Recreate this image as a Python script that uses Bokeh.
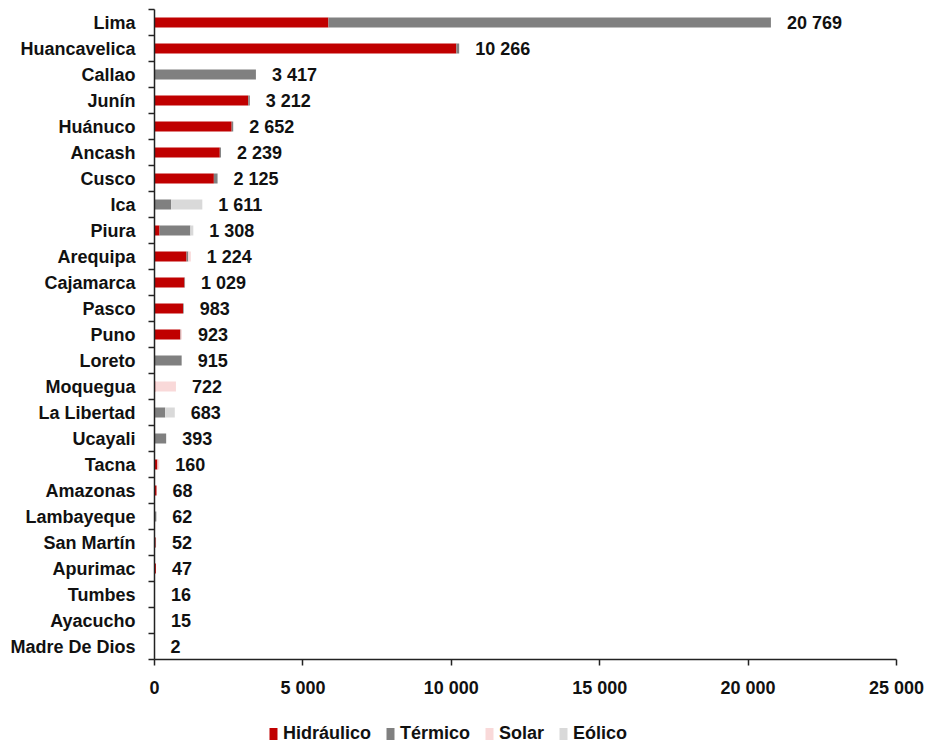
from bokeh.plotting import figure
from bokeh.layouts import column
from bokeh.models import ColumnDataSource, FixedTicker, Legend, LegendItem, LinearAxis
from bokeh.core.properties import value
from bokeh.embed import file_html
from bokeh.resources import INLINE

regions = ["Lima", "Huancavelica", "Callao", "Junín", "Huánuco", "Ancash", "Cusco", "Ica",
           "Piura", "Arequipa", "Cajamarca", "Pasco", "Puno", "Loreto", "Moquegua", "La Libertad",
           "Ucayali", "Tacna", "Amazonas", "Lambayeque", "San Martín", "Apurimac", "Tumbes",
           "Ayacucho", "Madre De Dios"]
hidraulico = [5860, 10170, 0, 3160, 2600, 2200, 2000, 0, 170, 1080, 1010, 960, 870, 0, 30, 20,
              0, 100, 68, 10, 40, 47, 0, 15, 0]
termico = [14909, 96, 3417, 52, 52, 39, 125, 560, 1040, 60, 19, 23, 13, 915, 0, 340,
           393, 0, 0, 52, 12, 0, 16, 0, 2]
solar = [0, 0, 0, 0, 0, 0, 0, 0, 0, 84, 0, 0, 40, 0, 692, 0,
         0, 60, 0, 0, 0, 0, 0, 0, 0]
eolico = [0, 0, 0, 0, 0, 0, 0, 1051, 98, 0, 0, 0, 0, 0, 0, 323,
          0, 0, 0, 0, 0, 0, 0, 0, 0]
totals = [20769, 10266, 3417, 3212, 2652, 2239, 2125, 1611, 1308, 1224, 1029, 983, 923, 915,
          722, 683, 393, 160, 68, 62, 52, 47, 16, 15, 2]
series = ["Hidráulico", "Térmico", "Solar", "Eólico"]
colors = ["#C00000", "#808080", "#F9D9D9", "#D9D9D9"]
x_ticks = [0, 5000, 10000, 15000, 20000, 25000]

n = len(regions)
ypos = [n - 1 - i for i in range(n)]
bounds = [k - 0.5 for k in range(n + 1)]

def fmt(v):
    return f"{v:,}".replace(",", " ")

src = ColumnDataSource(dict(y=ypos, region=regions, Hidráulico=hidraulico, Térmico=termico,
                            Solar=solar, Eólico=eolico, total=totals,
                            label=[fmt(t) for t in totals]))

FONT = "Liberation Sans"
FS = "18px"
INK = "#111111"
AX = "#222222"

p = figure(width=927, height=700, x_range=(0, 25000), y_range=(-0.5, n - 0.5),
           output_backend="svg", toolbar_location=None,
           min_border_left=154, min_border_right=31, min_border_top=9, min_border_bottom=41)
p.outline_line_color = None
p.xgrid.visible = False
p.ygrid.visible = False

renderers = p.hbar_stack(series, y="y", height=0.38, color=colors, line_color=None, source=src)

p.text(x="total", y="y", text="label", source=src, x_offset=16, text_align="left",
       text_baseline="middle", text_font=value(FONT), text_font_style="bold",
       text_font_size=FS, text_color=INK)

# inner y axis: line + ticks at category boundaries
tick_axis = LinearAxis(ticker=FixedTicker(ticks=bounds, minor_ticks=[]),
                       major_label_overrides={b: " " for b in bounds},
                       major_label_text_font_size="1px", major_label_standoff=0,
                       major_tick_out=6, major_tick_in=0,
                       axis_line_color=AX, axis_line_width=1.5,
                       major_tick_line_color=AX, major_tick_line_width=1.5,
                       minor_tick_line_color=None)
p.yaxis.visible = False
p.add_layout(tick_axis, "left")

# outer y axis: category names
name_axis = LinearAxis(ticker=FixedTicker(ticks=ypos, minor_ticks=[]),
                       major_label_overrides={y: r for y, r in zip(ypos, regions)},
                       axis_line_color=None, major_tick_line_color=None,
                       minor_tick_line_color=None, major_tick_out=0, major_tick_in=0,
                       major_label_standoff=10, major_label_text_font=FONT,
                       major_label_text_font_style="bold", major_label_text_font_size=FS,
                       major_label_text_color=INK)
p.add_layout(name_axis, "left")

# x axis
p.xaxis.ticker = FixedTicker(ticks=x_ticks, minor_ticks=[])
p.xaxis.major_label_overrides = {t: fmt(t) for t in x_ticks}
p.xaxis.major_tick_out = 6
p.xaxis.major_tick_in = 0
p.xaxis.major_label_standoff = 12
p.xaxis.major_label_text_font = FONT
p.xaxis.major_label_text_font_style = "bold"
p.xaxis.major_label_text_font_size = FS
p.xaxis.major_label_text_color = INK
p.xaxis.axis_line_color = AX
p.xaxis.axis_line_width = 1.5
p.xaxis.major_tick_line_color = AX
p.xaxis.major_tick_line_width = 1.5

# legend strip below the chart
lf = figure(width=927, height=47, x_range=(0, 1), y_range=(0, 1), output_backend="svg",
            toolbar_location=None, min_border=0, min_border_left=0, min_border_right=0,
            min_border_top=0, min_border_bottom=0)
lf.axis.visible = False
lf.grid.visible = False
lf.outline_line_color = None
leg_renderers = [lf.hbar(y=[-5], left=[-3], right=[-2], height=0.5, color=c, line_color=None)
                 for c in colors]

legend = Legend(items=[LegendItem(label=s, renderers=[r]) for s, r in zip(series, leg_renderers)],
                orientation="horizontal", location=(114, 3),
                label_text_font=FONT, label_text_font_style="bold", label_text_font_size=FS,
                label_text_color=INK, glyph_width=10, glyph_height=15, label_standoff=5,
                spacing=14, padding=0, margin=0, border_line_color=None,
                background_fill_alpha=0)
lf.add_layout(legend, "center")

layout = column(p, lf, spacing=0)
open("out.html", "w").write(file_html(layout, INLINE))
